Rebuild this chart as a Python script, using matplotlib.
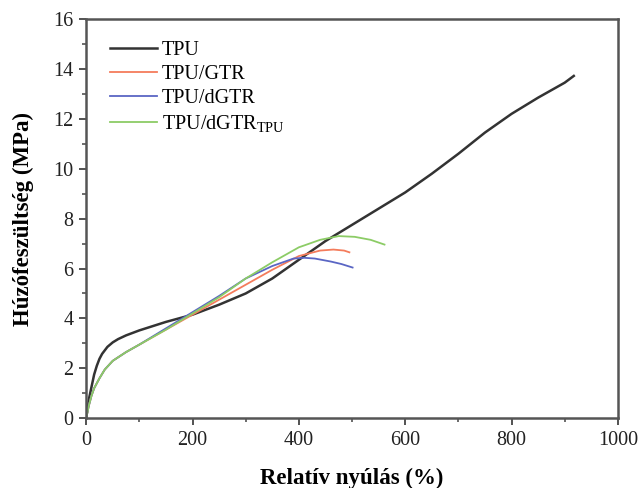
import numpy as np
import matplotlib
matplotlib.use("Agg")
import matplotlib.pyplot as plt

plt.rcParams['font.family'] = ['Liberation Serif', 'DejaVu Serif']
plt.rcParams['mathtext.fontset'] = 'custom'
plt.rcParams['mathtext.rm'] = 'Liberation Serif'

# data (strain %, stress MPa)
tpu_x = [0, 3, 6, 10, 15, 20, 25, 30, 40, 50, 60, 75, 100, 150, 200, 250, 300, 350,
         400, 450, 500, 550, 600, 650, 700, 750, 800, 850, 900, 917]
tpu_y = [0, 0.45, 0.85, 1.25, 1.75, 2.1, 2.38, 2.58, 2.86, 3.04, 3.17, 3.32, 3.52,
         3.86, 4.15, 4.55, 5.0, 5.6, 6.35, 7.1, 7.75, 8.4, 9.05, 9.8, 10.6, 11.45,
         12.2, 12.85, 13.45, 13.72]

gtr_x = [0, 5, 10, 15, 25, 35, 50, 75, 100, 150, 200, 250, 300, 350, 400, 440,
         465, 485, 495]
gtr_y = [0, 0.5, 0.9, 1.2, 1.6, 1.95, 2.3, 2.65, 2.95, 3.55, 4.15, 4.75,
         5.35, 5.95, 6.5, 6.72, 6.76, 6.72, 6.65]

dgtr_x = [0, 5, 10, 15, 25, 35, 50, 75, 100, 150, 200, 250, 300, 350, 390, 410,
          430, 460, 480, 501]
dgtr_y = [0, 0.5, 0.9, 1.2, 1.6, 1.95, 2.3, 2.65, 2.95, 3.6, 4.25, 4.9,
          5.6, 6.1, 6.4, 6.43, 6.4, 6.28, 6.18, 6.04]

dgtrt_x = [0, 5, 10, 15, 25, 35, 50, 75, 100, 150, 200, 250, 300, 350, 400, 440,
           475, 505, 535, 561]
dgtrt_y = [0, 0.5, 0.9, 1.2, 1.6, 1.95, 2.3, 2.65, 2.95, 3.55, 4.2, 4.85,
           5.6, 6.25, 6.85, 7.15, 7.3, 7.27, 7.15, 6.96]

labels = ['TPU', 'TPU/GTR', 'TPU/dGTR', r'TPU/dGTR$_{\mathregular{TPU}}$']
colors = ['#333333', '#f47c5c', '#5a66c4', '#8ccc66']

fig = plt.figure(figsize=(6.43, 4.88), dpi=100)
ax = fig.add_axes([0.134, 0.143, 0.827, 0.818])

ax.plot(tpu_x, tpu_y, color=colors[0], lw=1.8, label=labels[0])
ax.plot(gtr_x, gtr_y, color=colors[1], lw=1.3, label=labels[1])
ax.plot(dgtr_x, dgtr_y, color=colors[2], lw=1.3, label=labels[2])
ax.plot(dgtrt_x, dgtrt_y, color=colors[3], lw=1.3, label=labels[3])

ax.set_xlim(0, 1000)
ax.set_ylim(0, 16)
ax.set_xticks([0, 200, 400, 600, 800, 1000])
ax.set_xticks([100, 300, 500, 700, 900], minor=True)
ax.set_yticks(range(0, 17, 2))
ax.set_yticks(range(1, 16, 2), minor=True)
ax.tick_params(which='major', direction='out', length=5, width=1.3,
               labelsize=14.5, colors='#444444', pad=4)
ax.tick_params(which='minor', direction='out', length=3, width=1.1, colors='#444444')
for lab in ax.get_xticklabels() + ax.get_yticklabels():
    lab.set_color('#222222')
for s in ax.spines.values():
    s.set_linewidth(1.8)
    s.set_color('#555555')

ax.set_xlabel('Relatív nyúlás (%)', fontsize=16.5, fontweight='bold', labelpad=13)
ax.set_ylabel('Húzófeszültség (MPa)', fontsize=16.5, fontweight='bold', labelpad=14)

ax.legend(loc='upper left', frameon=False, fontsize=14.5, handlelength=2.3,
          labelspacing=0.25, handletextpad=0.25, borderaxespad=0.4,
          bbox_to_anchor=(0.015, 0.985))

fig.savefig('out.png', dpi=100)
